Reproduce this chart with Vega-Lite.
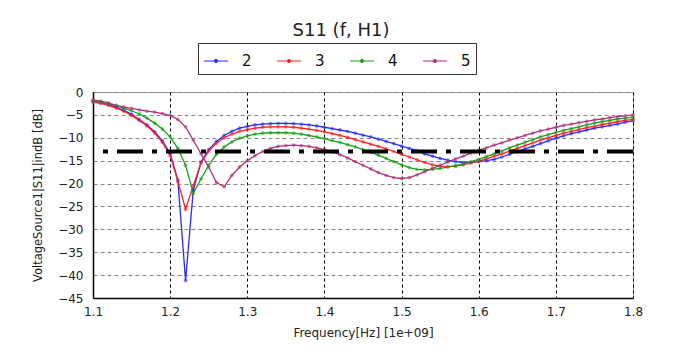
{
  "$schema": "https://vega.github.io/schema/vega-lite/v6.json",
  "autosize": "none",
  "width": 540,
  "height": 206,
  "padding": {"left": 93, "top": 92, "right": 41, "bottom": 60},
  "background": "white",
  "config": {
    "font": "DejaVu Sans",
    "view": {"stroke": "#999"},
    "axis": {"labelColor": "#222", "titleColor": "#222", "domainColor": "#000", "domainWidth": 1.5, "ticks": false, "titleFontWeight": "normal", "labelFontSize": 12, "titleFontSize": 12, "labelOverlap": false}
  },
  "title": {"text": "S11 (f, H1)", "fontSize": 18, "fontWeight": "normal", "color": "#222", "anchor": "middle", "dx": -22, "offset": 3},
  "datasets": {
    "s": [
      {"f":1.10,"s":"2","db":-2.0},{"f":1.11,"s":"2","db":-2.3},{"f":1.12,"s":"2","db":-2.7},{"f":1.13,"s":"2","db":-3.3},{"f":1.14,"s":"2","db":-4.0},{"f":1.15,"s":"2","db":-4.9},{"f":1.16,"s":"2","db":-6.0},{"f":1.17,"s":"2","db":-7.2},{"f":1.18,"s":"2","db":-8.7},{"f":1.19,"s":"2","db":-10.7},{"f":1.20,"s":"2","db":-13.4},{"f":1.21,"s":"2","db":-19.2},{"f":1.22,"s":"2","db":-41.2},{"f":1.23,"s":"2","db":-21.4},{"f":1.24,"s":"2","db":-15.3},{"f":1.25,"s":"2","db":-12.6},{"f":1.26,"s":"2","db":-10.8},{"f":1.27,"s":"2","db":-9.5},{"f":1.28,"s":"2","db":-8.6},{"f":1.29,"s":"2","db":-7.9},{"f":1.30,"s":"2","db":-7.5},{"f":1.31,"s":"2","db":-7.2},{"f":1.32,"s":"2","db":-7.0},{"f":1.33,"s":"2","db":-6.9},{"f":1.34,"s":"2","db":-6.85},{"f":1.35,"s":"2","db":-6.85},{"f":1.36,"s":"2","db":-6.9},{"f":1.37,"s":"2","db":-7.0},{"f":1.38,"s":"2","db":-7.2},{"f":1.39,"s":"2","db":-7.4},{"f":1.40,"s":"2","db":-7.7},{"f":1.41,"s":"2","db":-8.0},{"f":1.42,"s":"2","db":-8.3},{"f":1.43,"s":"2","db":-8.6},{"f":1.44,"s":"2","db":-9.0},{"f":1.45,"s":"2","db":-9.4},{"f":1.46,"s":"2","db":-9.8},{"f":1.47,"s":"2","db":-10.3},{"f":1.48,"s":"2","db":-10.8},{"f":1.49,"s":"2","db":-11.3},{"f":1.50,"s":"2","db":-11.8},{"f":1.51,"s":"2","db":-12.3},{"f":1.52,"s":"2","db":-12.8},{"f":1.53,"s":"2","db":-13.5},{"f":1.54,"s":"2","db":-14.0},{"f":1.55,"s":"2","db":-14.5},{"f":1.56,"s":"2","db":-14.9},{"f":1.57,"s":"2","db":-15.2},{"f":1.58,"s":"2","db":-15.4},{"f":1.59,"s":"2","db":-15.4},{"f":1.60,"s":"2","db":-15.2},{"f":1.61,"s":"2","db":-15.0},{"f":1.62,"s":"2","db":-14.7},{"f":1.63,"s":"2","db":-14.2},{"f":1.64,"s":"2","db":-13.6},{"f":1.65,"s":"2","db":-13.0},{"f":1.66,"s":"2","db":-12.4},{"f":1.67,"s":"2","db":-11.9},{"f":1.68,"s":"2","db":-11.3},{"f":1.69,"s":"2","db":-10.7},{"f":1.70,"s":"2","db":-10.1},{"f":1.71,"s":"2","db":-9.6},{"f":1.72,"s":"2","db":-9.1},{"f":1.73,"s":"2","db":-8.7},{"f":1.74,"s":"2","db":-8.3},{"f":1.75,"s":"2","db":-7.9},{"f":1.76,"s":"2","db":-7.6},{"f":1.77,"s":"2","db":-7.3},{"f":1.78,"s":"2","db":-7.0},{"f":1.79,"s":"2","db":-6.6},{"f":1.80,"s":"2","db":-6.3},
      {"f":1.10,"s":"3","db":-2.2},{"f":1.11,"s":"3","db":-2.5},{"f":1.12,"s":"3","db":-2.9},{"f":1.13,"s":"3","db":-3.5},{"f":1.14,"s":"3","db":-4.2},{"f":1.15,"s":"3","db":-5.1},{"f":1.16,"s":"3","db":-6.2},{"f":1.17,"s":"3","db":-7.4},{"f":1.18,"s":"3","db":-9.0},{"f":1.19,"s":"3","db":-11.0},{"f":1.20,"s":"3","db":-13.8},{"f":1.21,"s":"3","db":-19.5},{"f":1.22,"s":"3","db":-25.6},{"f":1.23,"s":"3","db":-20.5},{"f":1.24,"s":"3","db":-15.5},{"f":1.25,"s":"3","db":-12.9},{"f":1.26,"s":"3","db":-11.2},{"f":1.27,"s":"3","db":-10.0},{"f":1.28,"s":"3","db":-9.2},{"f":1.29,"s":"3","db":-8.6},{"f":1.30,"s":"3","db":-8.2},{"f":1.31,"s":"3","db":-7.9},{"f":1.32,"s":"3","db":-7.7},{"f":1.33,"s":"3","db":-7.6},{"f":1.34,"s":"3","db":-7.6},{"f":1.35,"s":"3","db":-7.6},{"f":1.36,"s":"3","db":-7.7},{"f":1.37,"s":"3","db":-7.9},{"f":1.38,"s":"3","db":-8.1},{"f":1.39,"s":"3","db":-8.4},{"f":1.40,"s":"3","db":-8.7},{"f":1.41,"s":"3","db":-9.1},{"f":1.42,"s":"3","db":-9.5},{"f":1.43,"s":"3","db":-9.9},{"f":1.44,"s":"3","db":-10.4},{"f":1.45,"s":"3","db":-10.9},{"f":1.46,"s":"3","db":-11.4},{"f":1.47,"s":"3","db":-11.9},{"f":1.48,"s":"3","db":-12.4},{"f":1.49,"s":"3","db":-13.0},{"f":1.50,"s":"3","db":-13.6},{"f":1.51,"s":"3","db":-14.2},{"f":1.52,"s":"3","db":-14.8},{"f":1.53,"s":"3","db":-15.4},{"f":1.54,"s":"3","db":-15.9},{"f":1.55,"s":"3","db":-16.2},{"f":1.56,"s":"3","db":-16.3},{"f":1.57,"s":"3","db":-16.2},{"f":1.58,"s":"3","db":-15.9},{"f":1.59,"s":"3","db":-15.5},{"f":1.60,"s":"3","db":-15.1},{"f":1.61,"s":"3","db":-14.6},{"f":1.62,"s":"3","db":-14.0},{"f":1.63,"s":"3","db":-13.5},{"f":1.64,"s":"3","db":-12.9},{"f":1.65,"s":"3","db":-12.3},{"f":1.66,"s":"3","db":-11.7},{"f":1.67,"s":"3","db":-11.1},{"f":1.68,"s":"3","db":-10.5},{"f":1.69,"s":"3","db":-10.0},{"f":1.70,"s":"3","db":-9.5},{"f":1.71,"s":"3","db":-9.0},{"f":1.72,"s":"3","db":-8.6},{"f":1.73,"s":"3","db":-8.2},{"f":1.74,"s":"3","db":-7.8},{"f":1.75,"s":"3","db":-7.5},{"f":1.76,"s":"3","db":-7.1},{"f":1.77,"s":"3","db":-6.8},{"f":1.78,"s":"3","db":-6.5},{"f":1.79,"s":"3","db":-6.2},{"f":1.80,"s":"3","db":-6.0},
      {"f":1.10,"s":"4","db":-1.9},{"f":1.11,"s":"4","db":-2.2},{"f":1.12,"s":"4","db":-2.6},{"f":1.13,"s":"4","db":-3.0},{"f":1.14,"s":"4","db":-3.5},{"f":1.15,"s":"4","db":-4.1},{"f":1.16,"s":"4","db":-4.8},{"f":1.17,"s":"4","db":-5.7},{"f":1.18,"s":"4","db":-6.8},{"f":1.19,"s":"4","db":-8.1},{"f":1.20,"s":"4","db":-9.8},{"f":1.21,"s":"4","db":-12.3},{"f":1.22,"s":"4","db":-16.0},{"f":1.23,"s":"4","db":-22.1},{"f":1.24,"s":"4","db":-19.0},{"f":1.25,"s":"4","db":-16.0},{"f":1.26,"s":"4","db":-13.6},{"f":1.27,"s":"4","db":-12.0},{"f":1.28,"s":"4","db":-10.9},{"f":1.29,"s":"4","db":-10.1},{"f":1.30,"s":"4","db":-9.6},{"f":1.31,"s":"4","db":-9.2},{"f":1.32,"s":"4","db":-9.0},{"f":1.33,"s":"4","db":-8.9},{"f":1.34,"s":"4","db":-8.9},{"f":1.35,"s":"4","db":-8.9},{"f":1.36,"s":"4","db":-9.0},{"f":1.37,"s":"4","db":-9.2},{"f":1.38,"s":"4","db":-9.5},{"f":1.39,"s":"4","db":-9.8},{"f":1.40,"s":"4","db":-10.2},{"f":1.41,"s":"4","db":-10.6},{"f":1.42,"s":"4","db":-11.0},{"f":1.43,"s":"4","db":-11.5},{"f":1.44,"s":"4","db":-12.0},{"f":1.45,"s":"4","db":-12.6},{"f":1.46,"s":"4","db":-13.2},{"f":1.47,"s":"4","db":-13.8},{"f":1.48,"s":"4","db":-14.5},{"f":1.49,"s":"4","db":-15.2},{"f":1.50,"s":"4","db":-15.9},{"f":1.51,"s":"4","db":-16.5},{"f":1.52,"s":"4","db":-16.9},{"f":1.53,"s":"4","db":-17.0},{"f":1.54,"s":"4","db":-16.9},{"f":1.55,"s":"4","db":-16.7},{"f":1.56,"s":"4","db":-16.4},{"f":1.57,"s":"4","db":-16.1},{"f":1.58,"s":"4","db":-15.7},{"f":1.59,"s":"4","db":-15.2},{"f":1.60,"s":"4","db":-14.7},{"f":1.61,"s":"4","db":-14.1},{"f":1.62,"s":"4","db":-13.5},{"f":1.63,"s":"4","db":-12.9},{"f":1.64,"s":"4","db":-12.2},{"f":1.65,"s":"4","db":-11.6},{"f":1.66,"s":"4","db":-11.0},{"f":1.67,"s":"4","db":-10.4},{"f":1.68,"s":"4","db":-9.8},{"f":1.69,"s":"4","db":-9.3},{"f":1.70,"s":"4","db":-8.8},{"f":1.71,"s":"4","db":-8.4},{"f":1.72,"s":"4","db":-8.0},{"f":1.73,"s":"4","db":-7.6},{"f":1.74,"s":"4","db":-7.2},{"f":1.75,"s":"4","db":-6.8},{"f":1.76,"s":"4","db":-6.5},{"f":1.77,"s":"4","db":-6.2},{"f":1.78,"s":"4","db":-5.9},{"f":1.79,"s":"4","db":-5.7},{"f":1.80,"s":"4","db":-5.5},
      {"f":1.10,"s":"5","db":-1.7},{"f":1.11,"s":"5","db":-2.0},{"f":1.12,"s":"5","db":-2.4},{"f":1.13,"s":"5","db":-2.9},{"f":1.14,"s":"5","db":-3.3},{"f":1.15,"s":"5","db":-3.6},{"f":1.16,"s":"5","db":-3.9},{"f":1.17,"s":"5","db":-4.2},{"f":1.18,"s":"5","db":-4.4},{"f":1.19,"s":"5","db":-4.7},{"f":1.20,"s":"5","db":-5.1},{"f":1.21,"s":"5","db":-6.0},{"f":1.22,"s":"5","db":-7.6},{"f":1.23,"s":"5","db":-10.5},{"f":1.24,"s":"5","db":-13.5},{"f":1.25,"s":"5","db":-16.4},{"f":1.26,"s":"5","db":-19.8},{"f":1.27,"s":"5","db":-20.7},{"f":1.28,"s":"5","db":-18.2},{"f":1.29,"s":"5","db":-16.4},{"f":1.30,"s":"5","db":-15.0},{"f":1.31,"s":"5","db":-13.9},{"f":1.32,"s":"5","db":-13.0},{"f":1.33,"s":"5","db":-12.3},{"f":1.34,"s":"5","db":-11.9},{"f":1.35,"s":"5","db":-11.7},{"f":1.36,"s":"5","db":-11.6},{"f":1.37,"s":"5","db":-11.7},{"f":1.38,"s":"5","db":-11.9},{"f":1.39,"s":"5","db":-12.2},{"f":1.40,"s":"5","db":-12.6},{"f":1.41,"s":"5","db":-13.1},{"f":1.42,"s":"5","db":-13.7},{"f":1.43,"s":"5","db":-14.4},{"f":1.44,"s":"5","db":-15.2},{"f":1.45,"s":"5","db":-16.0},{"f":1.46,"s":"5","db":-16.8},{"f":1.47,"s":"5","db":-17.6},{"f":1.48,"s":"5","db":-18.2},{"f":1.49,"s":"5","db":-18.7},{"f":1.50,"s":"5","db":-18.9},{"f":1.51,"s":"5","db":-18.7},{"f":1.52,"s":"5","db":-18.1},{"f":1.53,"s":"5","db":-17.4},{"f":1.54,"s":"5","db":-16.7},{"f":1.55,"s":"5","db":-16.0},{"f":1.56,"s":"5","db":-15.3},{"f":1.57,"s":"5","db":-14.6},{"f":1.58,"s":"5","db":-14.0},{"f":1.59,"s":"5","db":-13.3},{"f":1.60,"s":"5","db":-12.7},{"f":1.61,"s":"5","db":-12.2},{"f":1.62,"s":"5","db":-11.6},{"f":1.63,"s":"5","db":-11.1},{"f":1.64,"s":"5","db":-10.5},{"f":1.65,"s":"5","db":-10.0},{"f":1.66,"s":"5","db":-9.5},{"f":1.67,"s":"5","db":-9.0},{"f":1.68,"s":"5","db":-8.5},{"f":1.69,"s":"5","db":-8.1},{"f":1.70,"s":"5","db":-7.7},{"f":1.71,"s":"5","db":-7.3},{"f":1.72,"s":"5","db":-7.0},{"f":1.73,"s":"5","db":-6.7},{"f":1.74,"s":"5","db":-6.4},{"f":1.75,"s":"5","db":-6.1},{"f":1.76,"s":"5","db":-5.9},{"f":1.77,"s":"5","db":-5.6},{"f":1.78,"s":"5","db":-5.4},{"f":1.79,"s":"5","db":-5.2},{"f":1.80,"s":"5","db":-5.0}
    ]
  },
  "layer": [
    {
      "data": {"name": "s"},
      "encoding": {
        "x": {"field": "f", "type": "quantitative", "scale": {"domain": [1.1, 1.8], "nice": false, "zero": false},
          "axis": {"values": [1.1, 1.2, 1.3, 1.4, 1.5, 1.6, 1.7, 1.8], "format": ".1f", "title": "Frequency[Hz] [1e+09]", "labelPadding": 8, "titlePadding": 10, "gridColor": "#000", "gridDash": [3, 3], "gridOpacity": 1, "labelFlush": false}},
        "y": {"field": "db", "type": "quantitative", "scale": {"domain": [-45, 0], "nice": false},
          "axis": {"values": [0, -5, -10, -15, -20, -25, -30, -35, -40, -45], "title": "VoltageSource1|S11|indB [dB]", "titleFontSize": 11.5, "labelPadding": 10, "titlePadding": 14, "gridColor": "#888", "gridDash": [4, 3], "gridOpacity": 1, "labelFlush": false}}
      },
      "layer": [
        {
          "mark": {"type": "line", "strokeWidth": 1.3},
          "encoding": {
            "color": {"field": "s", "type": "nominal",
              "scale": {"domain": ["2", "3", "4", "5"], "range": ["#2a2aff", "#ff2020", "#18a018", "#b0307a"]},
              "legend": {"orient": "none", "legendX": 105, "legendY": -49, "direction": "horizontal", "columns": 4, "title": null,
                "symbolType": "M-1,0L1,0M-0.12,0A0.12,0.12,0,1,0,0.12,0A0.12,0.12,0,1,0,-0.12,0",
                "symbolSize": 576, "symbolStrokeWidth": 1.2, "labelFontSize": 15, "labelColor": "#111", "labelOffset": 13,
                "columnPadding": 22, "padding": 5, "strokeColor": "#333", "fillColor": "white"}}
          }
        },
        {
          "mark": {"type": "point", "filled": true, "size": 14, "opacity": 0.55},
          "encoding": {"color": {"field": "s", "type": "nominal", "legend": null}}
        }
      ]
    },
    {
      "data": {"values": [{"db": -13}]},
      "mark": {"type": "rule", "color": "#000", "strokeWidth": 4, "strokeDash": [26, 9, 5, 9]},
      "encoding": {"y": {"field": "db", "type": "quantitative",
        "axis": {"values": [0, -5, -10, -15, -20, -25, -30, -35, -40, -45], "title": "VoltageSource1|S11|indB [dB]", "titleFontSize": 11.5, "labelPadding": 10, "titlePadding": 14, "gridColor": "#888", "gridDash": [4, 3], "gridOpacity": 1, "labelFlush": false}}}
    }
  ]
}
